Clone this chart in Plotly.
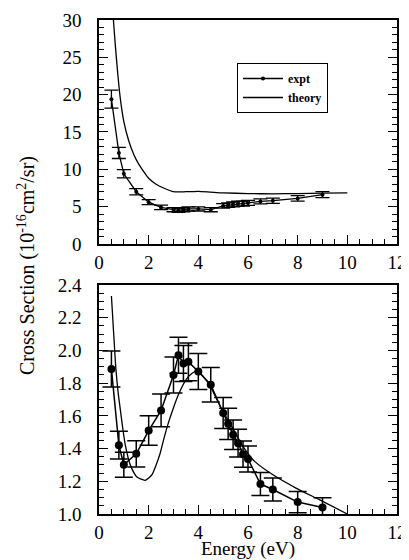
import plotly.graph_objects as go
from plotly.subplots import make_subplots

# ---- data ----
energy = [0.5, 0.8, 1.0, 1.5, 2.0, 2.5, 3.0, 3.2, 3.4, 3.6, 4.0, 4.5,
          5.0, 5.2, 5.4, 5.6, 5.8, 6.0, 6.5, 7.0, 8.0, 9.0]

top_expt = [19.4, 12.2, 9.4, 7.0, 5.6, 4.9, 4.6, 4.5, 4.6, 4.7, 4.7, 4.6,
            5.1, 5.2, 5.3, 5.4, 5.4, 5.5, 5.7, 5.8, 6.1, 6.6]
top_err = [1.2, 0.75, 0.55, 0.42, 0.34, 0.3, 0.28, 0.27, 0.28, 0.28, 0.28, 0.28,
           0.31, 0.31, 0.32, 0.32, 0.32, 0.33, 0.34, 0.35, 0.37, 0.4]

top_theory_x = [0.58, 0.66, 0.75, 0.85, 1.0, 1.2, 1.4, 1.6, 1.8, 2.0, 2.3, 2.6,
                3.0, 3.5, 4.0, 4.5, 5.0, 6.0, 7.0, 8.0, 9.0, 10.0]
top_theory_y = [30.0, 26.5, 23.0, 19.7, 16.4, 13.8, 12.0, 10.7, 9.7, 8.8, 8.0, 7.5,
                7.0, 7.0, 7.05, 6.95, 6.85, 6.75, 6.72, 6.75, 6.8, 6.85]

bot_expt = [1.887, 1.421, 1.301, 1.368, 1.51, 1.633, 1.849, 1.971, 1.92, 1.93,
            1.871, 1.79, 1.617, 1.551, 1.484, 1.433, 1.366, 1.336, 1.183, 1.15,
            1.073, 1.04]
bot_err = [0.11, 0.085, 0.077, 0.08, 0.09, 0.1, 0.11, 0.11, 0.11, 0.115, 0.11,
           0.105, 0.095, 0.095, 0.09, 0.085, 0.08, 0.08, 0.07, 0.07, 0.065, 0.06]

bot_theory_x = [0.5, 0.6, 0.68, 0.78, 0.86, 0.96, 1.06, 1.26, 1.53, 1.86, 2.13,
                2.3, 2.46, 2.63, 2.8, 3.0, 3.2, 3.5, 3.75, 3.95, 4.2, 4.47,
                4.94, 5.27, 5.81, 6.28, 7.02, 7.95, 8.89, 10.0]
bot_theory_y = [2.333, 2.08, 1.887, 1.73, 1.637, 1.52, 1.421, 1.30, 1.226, 1.206,
                1.24, 1.30, 1.37, 1.47, 1.56, 1.65, 1.73, 1.82, 1.86, 1.875,
                1.84, 1.785, 1.64, 1.556, 1.411, 1.32, 1.238, 1.157, 1.086, 1.0]

FONT = "Liberation Serif"
BLACK = "black"

fig = make_subplots(rows=2, cols=1, vertical_spacing=0.0)

fig.add_trace(go.Scatter(
    x=energy, y=top_expt, mode="lines+markers", name="expt",
    line=dict(color=BLACK, width=1.3),
    marker=dict(color=BLACK, size=4),
    error_y=dict(type="data", array=top_err, color=BLACK, thickness=1.3, width=7),
), row=1, col=1)
fig.add_trace(go.Scatter(
    x=top_theory_x, y=top_theory_y, mode="lines", name="theory",
    line=dict(color=BLACK, width=1.3, shape="spline", smoothing=0.6),
), row=1, col=1)

fig.add_trace(go.Scatter(
    x=energy, y=bot_expt, mode="lines+markers", name="expt", showlegend=False,
    line=dict(color=BLACK, width=1.5),
    marker=dict(color=BLACK, size=8),
    error_y=dict(type="data", array=bot_err, color=BLACK, thickness=1.5, width=9),
), row=2, col=1)
fig.add_trace(go.Scatter(
    x=bot_theory_x, y=bot_theory_y, mode="lines", name="theory", showlegend=False,
    line=dict(color=BLACK, width=1.3, shape="spline", smoothing=0.6),
), row=2, col=1)

axis_common = dict(showline=True, linecolor=BLACK, linewidth=1.5,
                   ticks="inside", tickcolor=BLACK, tickwidth=1.2,
                   showgrid=False, zeroline=False, automargin=False,
                   ticklabeloverflow="allow",
                   tickfont=dict(family=FONT, size=19, color=BLACK))

fig.update_xaxes(range=[0, 12], dtick=2, ticklen=9, ticklabelstandoff=0, mirror=True,
                 minor=dict(dtick=0.5, ticklen=5, ticks="inside", tickcolor=BLACK, tickwidth=1.2),
                 **axis_common)
fig.update_layout(
    yaxis=dict(range=[0, 30], dtick=5, ticklen=9, ticklabelstandoff=12, mirror="allticks",
               minor=dict(dtick=1, ticklen=5, ticks="inside", tickcolor=BLACK, tickwidth=1.2),
               domain=[0.5466, 1.0], **axis_common),
    yaxis2=dict(range=[1.0, 2.4], dtick=0.2, tickformat=".1f", ticklen=9, ticklabelstandoff=12,
                mirror="allticks",
                minor=dict(dtick=0.05, ticklen=5, ticks="inside", tickcolor=BLACK, tickwidth=1.2),
                domain=[0.0, 0.4636], **axis_common),
)

fig.update_layout(
    width=401, height=552,
    margin=dict(l=91, r=12, t=12, b=46),
    paper_bgcolor="white", plot_bgcolor="white",
    showlegend=True,
    legend=dict(x=0.463, y=0.913, xanchor="left", yanchor="top",
                bgcolor="white", bordercolor=BLACK, borderwidth=1,
                font=dict(family=FONT, size=12, color=BLACK, weight="bold"),
                tracegroupgap=0, itemwidth=40),
    annotations=[
        dict(text="Cross Section (10<sup>-16</sup>cm<sup>2</sup>/sr)",
             x=-0.245, y=0.504, xref="paper", yref="paper",
             xanchor="center", yanchor="middle", textangle=-90, showarrow=False,
             font=dict(family=FONT, size=20, color=BLACK)),
        dict(text="Energy (eV)", x=0.5, y=-0.0709, xref="paper", yref="paper",
             xanchor="center", yanchor="middle", showarrow=False,
             font=dict(family=FONT, size=19, color=BLACK)),
    ],
)

fig.write_html("out.html")
